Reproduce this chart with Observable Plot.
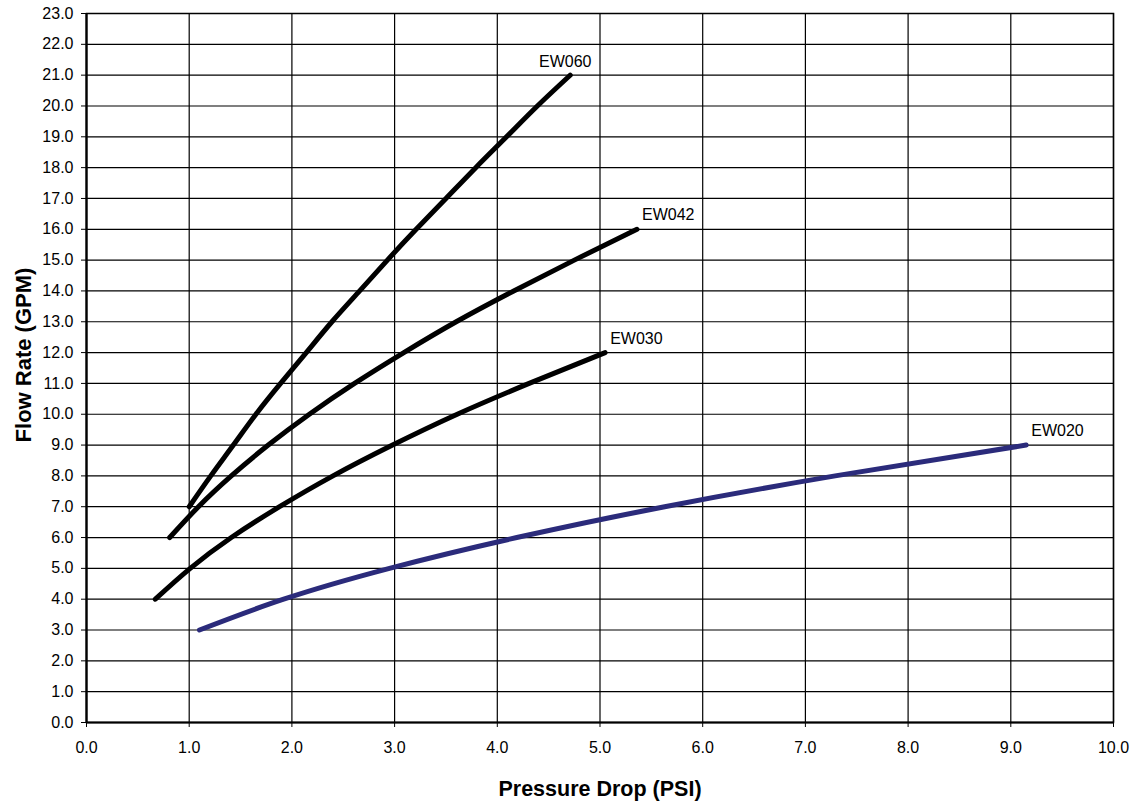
<!DOCTYPE html>
<html>
<head>
<meta charset="utf-8">
<script src="https://cdn.jsdelivr.net/npm/d3@7"></script>
<script src="https://cdn.jsdelivr.net/npm/@observablehq/plot@0.6"></script>
<style>
  html, body { margin: 0; padding: 0; background: #fff; }
  #chart { width: 1134px; height: 802px; }
</style>
</head>
<body>
<div id="chart"></div>
<script>
// Flow rate (GPM) vs pressure drop (PSI) for each model
const ew060Q = [7, 8, 9, 10, 11, 12, 13, 14, 15, 16, 17, 18, 19, 20, 21];
const ew060P = [1.00, 1.21, 1.43, 1.65, 1.89, 2.14, 2.39, 2.66, 2.93, 3.21, 3.50, 3.79, 4.09, 4.39, 4.71];

const ew042Q = [6, 7, 8, 9, 10, 11, 12, 13, 14, 15, 16];
const ew042P = [0.81, 1.09, 1.41, 1.77, 2.17, 2.61, 3.09, 3.60, 4.16, 4.75, 5.36];

const ew030Q = [4, 5, 6, 7, 8, 9, 10, 11, 12];
const ew030P = [0.67, 1.01, 1.41, 1.88, 2.40, 2.98, 3.61, 4.31, 5.05];

const ew020Q = [3, 4, 5, 6, 7, 8, 9];
const ew020P = [1.10, 1.92, 2.95, 4.19, 5.63, 7.29, 9.15];

const seriesNames = ["EW060", "EW042", "EW030", "EW020"];
const seriesColors = ["#000000", "#000000", "#000000", "#2b2b7b"];

const xTitle = "Pressure Drop (PSI)";
const yTitle = "Flow Rate (GPM)";

const seriesData = [
  [ew060P, ew060Q],
  [ew042P, ew042Q],
  [ew030P, ew030Q],
  [ew020P, ew020Q]
];

const rows = [];
seriesData.forEach(([P, Q], i) => {
  P.forEach((p, j) => rows.push({series: seriesNames[i], p, q: Q[j]}));
});
const ends = seriesData.map(([P, Q], i) => ({series: seriesNames[i], p: P[P.length - 1], q: Q[Q.length - 1]}));

const colorFor = d => seriesColors[seriesNames.indexOf(d.series)];

const xGrid = d3.range(0, 11, 1);
const yGrid = d3.range(0, 24, 1);

const chart = Plot.plot({
  width: 1134,
  height: 802,
  marginLeft: 86,
  marginRight: 21,
  marginTop: 13,
  marginBottom: 80,
  style: {fontFamily: "'Liberation Sans', Arial, sans-serif", fontSize: "16px", color: "#000", background: "#fff"},
  x: {domain: [0, 10], ticks: 10, tickFormat: ".1f", tickSize: 5, tickPadding: 14, label: null},
  y: {domain: [0, 23], ticks: 23, tickFormat: ".1f", tickSize: 5, tickPadding: 8, label: null},
  marks: [
    Plot.ruleX(xGrid, {stroke: "#000", strokeWidth: 1.2}),
    Plot.ruleY(yGrid, {stroke: "#000", strokeWidth: 1.2}),
    Plot.frame({stroke: "#000", strokeWidth: 1.5}),
    Plot.ruleX([0], {stroke: "#000", strokeWidth: 2.2}),
    Plot.ruleY([0], {stroke: "#000", strokeWidth: 2.2}),
    Plot.line(rows, {x: "p", y: "q", z: "series", stroke: colorFor, strokeWidth: 5, curve: "natural", strokeLinecap: "round", strokeLinejoin: "round"}),
    Plot.text(ends.filter(d => d.series === "EW060"), {x: "p", y: "q", text: "series", dx: -5, dy: -13, textAnchor: "middle", fontSize: 16}),
    Plot.text(ends.filter(d => d.series !== "EW060"), {x: "p", y: "q", text: "series", dx: 5, dy: -14, textAnchor: "start", fontSize: 16}),
    Plot.text([xTitle], {frameAnchor: "bottom", dy: 73, textAnchor: "middle", fontSize: 21.5, fontWeight: "bold"}),
    Plot.text([yTitle], {frameAnchor: "left", dx: -63, dy: -13, rotate: -90, textAnchor: "middle", lineAnchor: "middle", fontSize: 22, fontWeight: "bold"})
  ]
});
document.getElementById("chart").appendChild(chart);
</script>
</body>
</html>
